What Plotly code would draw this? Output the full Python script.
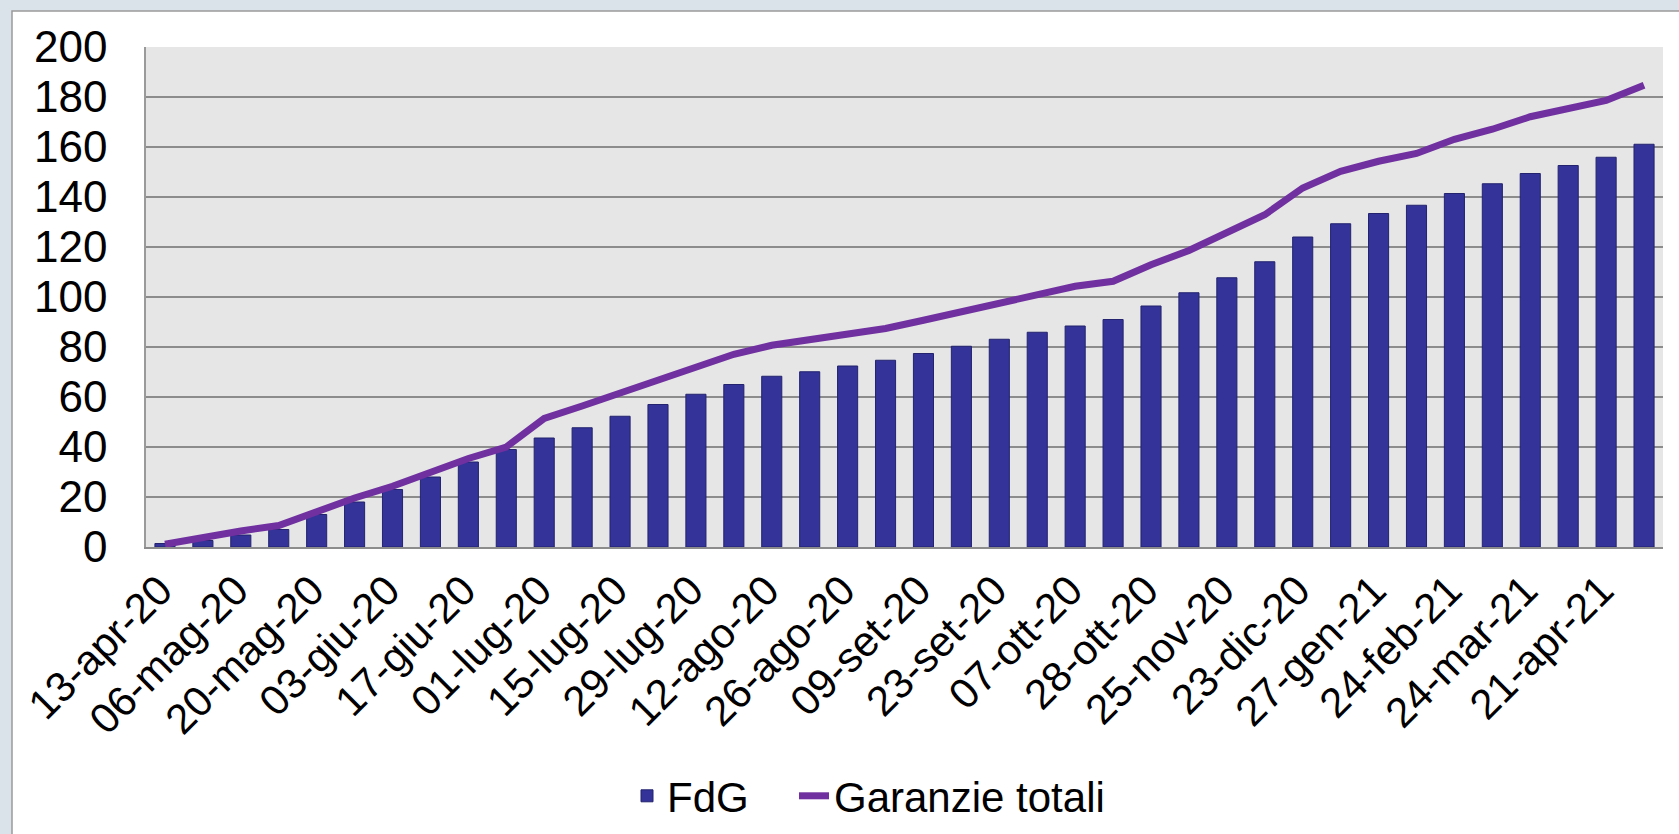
import plotly.graph_objects as go

# ---- data ----
dates = ["13-apr-20", "27-apr-20", "06-mag-20", "13-mag-20", "20-mag-20", "27-mag-20",
         "03-giu-20", "10-giu-20", "17-giu-20", "24-giu-20", "01-lug-20", "08-lug-20",
         "15-lug-20", "22-lug-20", "29-lug-20", "05-ago-20", "12-ago-20", "19-ago-20",
         "26-ago-20", "02-set-20", "09-set-20", "16-set-20", "23-set-20", "30-set-20",
         "07-ott-20", "14-ott-20", "28-ott-20", "11-nov-20", "25-nov-20", "09-dic-20",
         "23-dic-20", "13-gen-21", "27-gen-21", "10-feb-21", "24-feb-21", "10-mar-21",
         "24-mar-21", "07-apr-21", "21-apr-21", "05-mag-21"]

fdg = [1.4, 2.6, 4.8, 7.0, 13.0, 18.0, 23.0, 28.0, 34.0, 39.0,
       43.6, 47.7, 52.3, 57.0, 61.1, 65.0, 68.3, 70.1, 72.4, 74.7,
       77.4, 80.3, 83.1, 85.9, 88.4, 91.0, 96.4, 101.7, 107.7, 114.1,
       124.0, 129.3, 133.4, 136.7, 141.4, 145.3, 149.4, 152.6, 155.9, 161.1]

garanzie_totali = [1.1, 4.0, 6.4, 8.6, 14.3, 19.6, 24.3, 29.7, 35.4, 40.0,
                   51.4, 56.4, 61.7, 66.4, 72.1, 77.1, 80.7, 82.9, 85.0, 87.4,
                   90.7, 94.0, 97.1, 100.7, 104.3, 106.3, 112.9, 118.6, 125.4, 132.9,
                   143.6, 150.3, 154.3, 157.4, 163.1, 167.1, 172.1, 175.3, 178.6, 184.7]

tick_labels = dates[::2]
y_ticks = list(range(0, 201, 20))

FONT = "Liberation Sans, Arial, sans-serif"
FS = 42

fig = go.Figure()
fig.add_trace(go.Bar(
    x=dates, y=fdg, name="FdG", legend="legend",
    marker=dict(color="#333399", line=dict(color="#23236f", width=1)),
))
fig.add_trace(go.Scatter(
    x=dates, y=garanzie_totali, name="Garanzie totali", mode="lines", legend="legend2",
    line=dict(color="#7030a0", width=7),
))

W, H = 1679, 834
L, R, T, B = 146, 16, 47, 287
pw, ph = W - L - R, H - T - B

def px2paper_x(px):
    return (px - L) / pw

def px2paper_y(py):
    return (H - B - py) / ph

shapes = [
    # white chart box
    dict(type="rect", xref="paper", yref="paper", layer="below",
         x0=px2paper_x(12), x1=px2paper_x(W + 20), y0=px2paper_y(H + 20), y1=px2paper_y(11),
         fillcolor="white", line=dict(color="#9a9a9a", width=1.5)),
    # plot area background
    dict(type="rect", xref="paper", yref="paper", layer="below",
         x0=0, x1=1, y0=0, y1=1, fillcolor="#e6e6e6", line=dict(width=0)),
]

legend_common = dict(orientation="h", xanchor="left", yanchor="middle",
                     font=dict(family=FONT, size=FS, color="black"),
                     bgcolor="rgba(0,0,0,0)")

fig.update_layout(
    width=W, height=H,
    margin=dict(l=L, r=R, t=T, b=B, autoexpand=False),
    paper_bgcolor="#dbe3ea",
    plot_bgcolor="rgba(0,0,0,0)",
    bargap=0.47,
    font=dict(family=FONT, size=FS, color="black"),
    shapes=shapes,
    showlegend=True,
    legend=dict(x=px2paper_x(627), y=px2paper_y(796), **legend_common),
    legend2=dict(x=px2paper_x(794), y=px2paper_y(796), **legend_common),
)

fig.update_xaxes(
    type="category", automargin=False,
    tickmode="array", tickvals=tick_labels, ticktext=tick_labels,
    tickangle=-45, ticks="", showgrid=False, ticklabelshift=-5,
    showline=True, linecolor="#8c8c8c", linewidth=1.5,
    tickfont=dict(family=FONT, size=FS, color="black"),
    range=[-0.5, len(dates) - 0.5],
)
fig.update_yaxes(
    range=[0, 200], tickmode="array", tickvals=y_ticks, automargin=False,
    ticks="", showgrid=True, gridcolor="#8c8c8c", gridwidth=1.5,
    showline=True, linecolor="#9a9a9a", linewidth=1.5,
    zeroline=False, ticklabelstandoff=28,
    tickfont=dict(family=FONT, size=44, color="black"),
)

fig.write_html("out.html", config={"displayModeBar": False},
               post_script="document.body.style.margin='0';")
